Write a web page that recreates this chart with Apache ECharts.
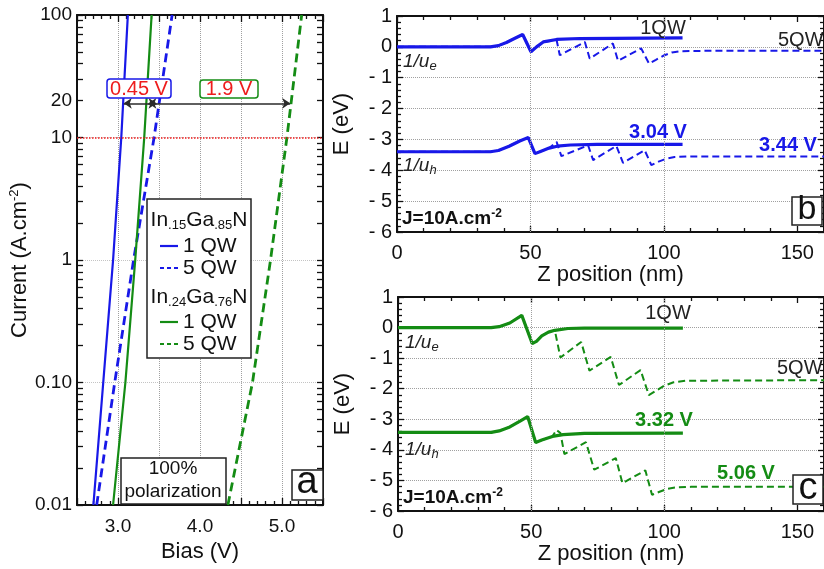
<!DOCTYPE html>
<html>
<head>
<meta charset="utf-8">
<script src="https://cdn.jsdelivr.net/npm/echarts@6/dist/echarts.min.js"></script>
<style>
  html, body { margin: 0; padding: 0; background: #fff; }
  #chart { width: 824px; height: 569px; }
</style>
</head>
<body>
<div id="chart"></div>
<script>
// ---------- Panel a: current density vs bias ----------
const currentLevels = [0.01, 0.1, 1, 10, 100];
const biasIn15_1QW = [2.70, 2.82, 2.94, 3.04, 3.12];
const biasIn15_5QW = [2.74, 2.96, 3.19, 3.44, 3.66];
const biasIn24_1QW = [2.94, 3.09, 3.21, 3.32, 3.41];
const biasIn24_5QW = [4.34, 4.64, 4.86, 5.06, 5.24];
const currentTickLabels = [0.01, 0.1, 1, 10, 20, 100];
const biasTickLabels = [3, 4, 5];
const refCurrent = 10;
const gapArrowCurrent = 19;
const gapArrowIn15 = [3.07, 3.47];
const gapArrowIn24 = [3.37, 5.10];

// ---------- Panel b: In.15Ga.85N band edges at 10 A/cm2 ----------
const zB_cb1 = [0, 35, 38, 41, 44, 47.1, 50.2, 52.3, 54.8, 59.8, 68.5, 107];
const eB_cb1 = [0, 0, 0.04, 0.14, 0.27, 0.40, -0.16, 0.0, 0.16, 0.24, 0.27, 0.29];
const zB_cb5 = [0, 35, 38, 41, 44, 47.1, 50.2, 52.3, 54.8, 59.8, 61, 70.4, 72.2, 80.9, 82.8, 91.5, 94.4, 97, 100, 103, 106, 115, 160];
const eB_cb5 = [0, 0, 0.04, 0.14, 0.27, 0.40, -0.16, 0.0, 0.16, 0.22, -0.27, 0.16, -0.38, 0.11, -0.45, -0.05, -0.54, -0.42, -0.28, -0.18, -0.14, -0.13, -0.13];
const zB_vb1 = [0, 35, 38, 42, 46, 49.2, 51.7, 54, 57, 60, 65, 75, 107];
const eB_vb1 = [-3.40, -3.40, -3.36, -3.22, -3.05, -2.94, -3.46, -3.38, -3.28, -3.22, -3.18, -3.16, -3.16];
const zB_vb5 = [0, 35, 38, 42, 46, 49.2, 51.7, 54, 57, 59.8, 61.6, 71.6, 73.5, 82.2, 84.7, 92.8, 95.3, 98, 101, 104, 110, 160];
const eB_vb5 = [-3.40, -3.40, -3.36, -3.22, -3.05, -2.94, -3.46, -3.38, -3.28, -3.08, -3.54, -3.19, -3.67, -3.21, -3.76, -3.35, -3.83, -3.72, -3.62, -3.57, -3.55, -3.55];

// ---------- Panel c: In.24Ga.76N band edges at 10 A/cm2 ----------
const zC_cb1 = [0, 35, 38, 42, 46.5, 50.4, 52, 54, 56.5, 58.9, 63.8, 70, 107];
const eC_cb1 = [0, 0, 0.03, 0.15, 0.40, -0.52, -0.45, -0.27, -0.15, -0.09, -0.03, -0.02, -0.02];
const zC_cb5 = [0, 35, 38, 42, 46.5, 50.4, 52, 54, 56.5, 58.9, 61, 68.8, 71.9, 79.9, 83, 91.1, 94.2, 97, 100, 103.5, 108, 160];
const eC_cb5 = [0, 0, 0.03, 0.15, 0.40, -0.52, -0.45, -0.27, -0.15, -0.09, -0.98, -0.47, -1.41, -0.96, -1.88, -1.39, -2.21, -2.06, -1.90, -1.79, -1.74, -1.72];
const zC_vb1 = [0, 35, 38, 42, 46, 48.7, 51.7, 54, 58, 62, 70, 107];
const eC_vb1 = [-3.43, -3.43, -3.38, -3.25, -3.05, -2.91, -3.76, -3.68, -3.56, -3.50, -3.46, -3.45];
const zC_vb5 = [0, 35, 38, 42, 46, 48.7, 51.7, 54, 58, 59.5, 61, 62.5, 70.6, 73.7, 81.8, 84.3, 92.9, 95.4, 98, 101, 104, 110, 160];
const eC_vb5 = [-3.43, -3.43, -3.38, -3.25, -3.05, -2.91, -3.76, -3.68, -3.56, -3.35, -3.45, -4.14, -3.75, -4.65, -4.27, -5.09, -4.67, -5.47, -5.38, -5.28, -5.23, -5.21, -5.21];
const zPositionGrid = [50, 100];

// ---------- styling ----------
const font = 'Liberation Sans, Arial, sans-serif';
const ink = '#111';
const blue = '#1818e8';
const green = '#148c14';
const red = '#ee1c1c';
const gridGray = '#a0a0a0';

const pairs = (xs, ys) => xs.map((x, i) => [x, ys[i]]);

// tick marks at every n*10^k on the log axis
const logTicks = [];
for (let k = -2; k <= 1; k++) {
  for (let n = 1; n <= 9; n++) logTicks.push(+(n * Math.pow(10, k)).toPrecision(3));
}
logTicks.push(100);

const frameLine = { show: true, onZero: false, lineStyle: { color: ink, width: 2 } };
const tickStyle = { color: ink, width: 1.3 };

function bandX(gridIndex, position, withLabels) {
  return {
    type: 'value', gridIndex, position, min: 0, max: 160, interval: 50,
    axisLine: frameLine,
    axisTick: { show: true, inside: true, length: 6, lineStyle: tickStyle },
    minorTick: { show: true, splitNumber: 5, length: 4, lineStyle: tickStyle },
    axisLabel: withLabels
      ? { show: true, showMaxLabel: false, margin: 11, fontSize: 20, color: ink, fontFamily: font }
      : { show: false },
    splitLine: { show: false },
    name: withLabels ? 'Z position (nm)' : '',
    nameLocation: 'middle', nameGap: 31,
    nameTextStyle: { fontSize: 22, color: ink, fontFamily: font }
  };
}
function bandY(gridIndex, position, withLabels) {
  return {
    type: 'value', gridIndex, position, min: -6, max: 1, interval: 1,
    axisLine: frameLine,
    axisTick: { show: true, inside: true, length: 6, lineStyle: tickStyle },
    minorTick: { show: true, splitNumber: 5, length: 4, lineStyle: tickStyle },
    axisLabel: withLabels
      ? { show: true, margin: 5, fontSize: 20, color: ink, fontFamily: font,
          formatter: v => (v < 0 ? '- ' + Math.abs(v) : String(v)) }
      : { show: false },
    splitLine: { show: withLabels, lineStyle: { color: gridGray, type: 'dotted', width: 1 } },
    name: withLabels ? 'E (eV)' : '',
    nameLocation: 'middle', nameGap: 44,
    nameTextStyle: { fontSize: 22, color: ink, fontFamily: font }
  };
}

function line(xi, yi, data, color, width, dashed, extra) {
  return Object.assign({
    type: 'line', xAxisIndex: xi, yAxisIndex: yi, data,
    showSymbol: false, symbol: 'none', smooth: false, silent: true,
    lineStyle: { color, width, type: dashed ? dashed : 'solid' }
  }, extra || {});
}

const zGridMark = {
  silent: true, symbol: ['none', 'none'], label: { show: false },
  lineStyle: { color: gridGray, type: 'dotted', width: 1 },
  data: zPositionGrid.map(z => ({ xAxis: z }))
};

// ---------- overlay texts and boxes ----------
function box(x, y, w, h, stroke, r) {
  return { type: 'rect', z: 100, shape: { x, y, width: w, height: h, r: r || 0 },
           style: { fill: '#fff', stroke: stroke || '#222', lineWidth: 1.5 } };
}
function txt(x, y, text, size, color, align, bold) {
  return { type: 'text', z: 101, x, y,
           style: { text, fill: color || ink, font: (bold ? 'bold ' : '') + size + 'px ' + font,
                    align: align || 'center', verticalAlign: 'middle' } };
}
function richTxt(x, y, text, rich, align) {
  return { type: 'text', z: 101, x, y,
           style: { text, rich, align: align || 'left', verticalAlign: 'middle' } };
}
function seg(x1, x2, y, color, dash) {
  return { type: 'line', z: 101, shape: { x1, y1: y, x2, y2: y },
           style: { stroke: color, lineWidth: 2.2, lineDash: dash || null } };
}

const alloyRich = {
  m: { fontSize: 21, fontFamily: font, fill: ink, lineHeight: 24 },
  s: { fontSize: 13, fontFamily: font, fill: ink, lineHeight: 13, verticalAlign: 'bottom' }
};
const invMassRich = {
  i: { fontSize: 19, fontFamily: font, fontStyle: 'italic', fill: '#222', lineHeight: 22 },
  s: { fontSize: 13, fontFamily: font, fontStyle: 'italic', fill: '#222', lineHeight: 13, verticalAlign: 'bottom' }
};
const currentRich = {
  b: { fontSize: 19, fontFamily: font, fontWeight: 'bold', fill: ink, lineHeight: 22 },
  s: { fontSize: 12, fontFamily: font, fontWeight: 'bold', fill: ink, lineHeight: 12, verticalAlign: 'top' }
};

const graphics = [
  // panel a annotations
  box(107, 79, 64, 19, blue, 3), txt(139, 89, '0.45 V', 20, red),
  box(200, 80, 58, 18, green, 3), txt(229, 89, '1.9 V', 20, red),
  box(147, 199, 104, 159),
  richTxt(199, 220, '{m|In}{s|.15}{m|Ga}{s|.85}{m|N}', alloyRich, 'center'),
  seg(160, 178, 246, blue), txt(183, 246, '1 QW', 21, ink, 'left'),
  seg(160, 178, 268, blue, [4, 3]), txt(183, 268, '5 QW', 21, ink, 'left'),
  richTxt(199, 297, '{m|In}{s|.24}{m|Ga}{s|.76}{m|N}', alloyRich, 'center'),
  seg(160, 178, 322, green), txt(183, 322, '1 QW', 21, ink, 'left'),
  seg(160, 178, 344, green, [4, 3]), txt(183, 344, '5 QW', 21, ink, 'left'),
  box(121, 458, 105, 46), txt(173, 469, '100%', 19), txt(173, 492, 'polarization', 19),
  box(292, 470, 31, 30), txt(307, 483, 'a', 38),

  // panel b annotations
  txt(663, 28, '1QW', 20, '#222'),
  txt(778, 40, '5QW', 20, '#222', 'left'),
  richTxt(403, 62, '{i|1/u}{s|e}', invMassRich),
  richTxt(403, 166, '{i|1/u}{s|h}', invMassRich),
  txt(658, 132, '3.04 V', 20, blue, 'center', true),
  txt(788, 145, '3.44 V', 20, blue, 'center', true),
  richTxt(402, 219, '{b|J=10A.cm}{s|-2}', currentRich),
  box(792, 197, 30, 28), txt(807, 210, 'b', 34),

  // panel c annotations
  txt(668, 313, '1QW', 20, '#222'),
  txt(777, 368, '5QW', 20, '#222', 'left'),
  richTxt(405, 343, '{i|1/u}{s|e}', invMassRich),
  richTxt(405, 450, '{i|1/u}{s|h}', invMassRich),
  txt(664, 420, '3.32 V', 20, green, 'center', true),
  txt(746, 473, '5.06 V', 20, green, 'center', true),
  richTxt(403, 498, '{b|J=10A.cm}{s|-2}', currentRich),
  box(793, 475, 30, 29), txt(808, 489, 'c', 38)
];

const option = {
  animation: false,
  backgroundColor: '#fff',
  grid: [
    { left: 77, top: 15, width: 246, height: 490 },
    { left: 397, top: 16, width: 427, height: 216 },
    { left: 398, top: 297, width: 426, height: 214 }
  ],
  xAxis: [
    {
      type: 'value', gridIndex: 0, position: 'bottom', min: 2.5, max: 5.5, interval: 0.5,
      axisLine: frameLine,
      axisTick: { show: true, inside: true, length: 7, lineStyle: tickStyle },
      minorTick: { show: true, splitNumber: 5, length: 4, lineStyle: tickStyle },
      axisLabel: { margin: 12, fontSize: 19, color: ink, fontFamily: font,
                   formatter: v => (biasTickLabels.includes(v) ? v.toFixed(1) : '') },
      splitLine: { show: true, lineStyle: { color: gridGray, type: 'dotted', width: 1 } },
      name: 'Bias (V)', nameLocation: 'middle', nameGap: 34,
      nameTextStyle: { fontSize: 22, color: ink, fontFamily: font }
    },
    {
      type: 'value', gridIndex: 0, position: 'top', min: 2.5, max: 5.5, interval: 0.5,
      axisLine: frameLine,
      axisTick: { show: true, inside: true, length: 7, lineStyle: tickStyle },
      minorTick: { show: true, splitNumber: 5, length: 4, lineStyle: tickStyle },
      axisLabel: { show: false }, splitLine: { show: false }
    },
    bandX(1, 'bottom', true), bandX(1, 'top', false),
    bandX(2, 'bottom', true), bandX(2, 'top', false)
  ],
  yAxis: [
    {
      type: 'log', logBase: 10, gridIndex: 0, position: 'left', min: 0.01, max: 100,
      axisLine: frameLine,
      axisTick: { show: true, inside: true, length: 6, customValues: logTicks, lineStyle: tickStyle },
      axisLabel: { show: true, customValues: currentTickLabels, margin: 5, fontSize: 19,
                   color: ink, fontFamily: font,
                   formatter: v => (v >= 1 ? String(Math.round(v)) : Number(v).toFixed(2)) },
      splitLine: { show: false },
      name: '{m|Current (A.cm}{s|-2}{m|)}', nameLocation: 'middle', nameGap: 38,
      nameTextStyle: {
        fontSize: 22, color: ink, fontFamily: font,
        rich: {
          m: { fontSize: 22, color: ink, fontFamily: font, lineHeight: 25 },
          s: { fontSize: 13, color: ink, fontFamily: font, lineHeight: 13, verticalAlign: 'top' }
        }
      }
    },
    {
      type: 'log', logBase: 10, gridIndex: 0, position: 'right', min: 0.01, max: 100,
      axisLine: frameLine,
      axisTick: { show: true, inside: true, length: 6, customValues: logTicks, lineStyle: tickStyle },
      axisLabel: { show: false }, splitLine: { show: false }
    },
    {
      type: 'log', logBase: 10, gridIndex: 0, position: 'left', min: 0.01, max: 100,
      axisLine: { show: false }, axisTick: { show: false }, axisLabel: { show: false },
      splitLine: { show: true, lineStyle: { color: '#c4c4c4', type: 'dotted', width: 1 } }
    },
    bandY(1, 'left', true), bandY(1, 'right', false),
    bandY(2, 'left', true), bandY(2, 'right', false)
  ],
  series: [
    // panel a
    line(0, 0, pairs(biasIn15_1QW, currentLevels), blue, 2.2, null, {
      markLine: {
        silent: true, symbol: ['none', 'none'], label: { show: false },
        lineStyle: { color: red, type: 'dotted', width: 1.5 },
        data: [{ yAxis: refCurrent }]
      }
    }),
    line(0, 0, pairs(biasIn15_5QW, currentLevels), blue, 2.8, [9, 5]),
    line(0, 0, pairs(biasIn24_1QW, currentLevels), green, 2.2, null),
    line(0, 0, pairs(biasIn24_5QW, currentLevels), green, 2.8, [9, 5], {
      markLine: {
        silent: true, symbol: ['arrow', 'arrow'], symbolSize: 8, label: { show: false },
        lineStyle: { color: '#2a2a2a', type: 'solid', width: 1.5 },
        data: [
          [{ coord: [gapArrowIn15[0], gapArrowCurrent] }, { coord: [gapArrowIn15[1], gapArrowCurrent] }],
          [{ coord: [gapArrowIn24[0], gapArrowCurrent] }, { coord: [gapArrowIn24[1], gapArrowCurrent] }]
        ]
      }
    }),

    // panel b
    line(2, 3, pairs(zB_cb5, eB_cb5), blue, 2, [7, 4], { markLine: zGridMark }),
    line(2, 3, pairs(zB_vb5, eB_vb5), blue, 2, [7, 4]),
    line(2, 3, pairs(zB_cb1, eB_cb1), blue, 3.2),
    line(2, 3, pairs(zB_vb1, eB_vb1), blue, 3.2),

    // panel c
    line(4, 5, pairs(zC_cb5, eC_cb5), green, 2, [7, 4], { markLine: zGridMark }),
    line(4, 5, pairs(zC_vb5, eC_vb5), green, 2, [7, 4]),
    line(4, 5, pairs(zC_cb1, eC_cb1), green, 3.2),
    line(4, 5, pairs(zC_vb1, eC_vb1), green, 3.2)
  ],
  graphic: graphics
};

const chart = echarts.init(document.getElementById('chart'), null, { renderer: 'canvas' });
chart.setOption(option);
</script>
</body>
</html>
